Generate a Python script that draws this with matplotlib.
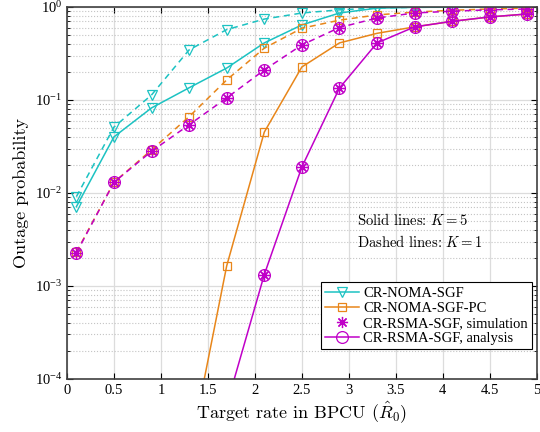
import numpy as np
import matplotlib
matplotlib.use('Agg')
import matplotlib.pyplot as plt

plt.rcParams['font.family'] = ['Liberation Serif', 'DejaVu Serif']
plt.rcParams['mathtext.fontset'] = 'stix'

# target rate (BPCU)
rate = [0.1, 0.5, 0.9, 1.3, 1.7, 2.1, 2.5, 2.9, 3.3, 3.7, 4.1, 4.5, 4.9]

# CR-NOMA-SGF
noma_k5 = [0.0071, 0.040, 0.082, 0.135, 0.22, 0.41, 0.64, 0.86, 0.97, 0.99, 0.995, 0.998, 0.999]
noma_k1 = [0.0091, 0.051, 0.113, 0.345, 0.57, 0.74, 0.86, 0.93, 0.975, 0.99, 0.995, 0.998, 0.999]

# CR-NOMA-SGF-PC
pc_rate_k5 = [1.3, 1.7, 2.1, 2.5, 2.9, 3.3, 3.7, 4.1, 4.5, 4.9]
pc_k5 = [1.5e-5, 0.00164, 0.045, 0.226, 0.41, 0.52, 0.61, 0.70, 0.78, 0.84]
pc_k1 = [0.0023, 0.013, 0.029, 0.066, 0.164, 0.36, 0.59, 0.72, 0.82, 0.88, 0.92, 0.95, 0.97]

# CR-RSMA-SGF
rsma_rate_k5 = [1.7, 2.1, 2.5, 2.9, 3.3, 3.7, 4.1, 4.5, 4.9]
rsma_k5 = [5.2e-5, 0.00132, 0.019, 0.134, 0.41, 0.61, 0.70, 0.78, 0.84]
rsma_k1 = [0.00226, 0.013, 0.028, 0.054, 0.105, 0.21, 0.39, 0.60, 0.76, 0.86, 0.90, 0.93, 0.95]

c_noma = '#1cc2c2'
c_pc = '#e8861a'
c_rsma = '#c000c8'
star = (8, 2, 0)
dash = (4, 3)

fig = plt.figure(figsize=(5.4, 4.32), dpi=100)
ax = fig.add_axes([0.124, 0.123, 0.870, 0.861])

lw = 1.1
mk = dict(mfc='none', mew=0.9)
# K = 5 (solid)
ax.plot(rate, noma_k5, '-', color=c_noma, lw=lw, marker='v', ms=7, **mk)
ax.plot(pc_rate_k5, pc_k5, '-', color=c_pc, lw=lw, marker='s', ms=6, **mk)
ax.plot(rsma_rate_k5, rsma_k5, '-', color=c_rsma, lw=lw, marker='o', ms=8.5, **mk)
ax.plot(rsma_rate_k5, rsma_k5, ls='none', color=c_rsma, marker=star, ms=8, mew=0.9)
# K = 1 (dashed)
ax.plot(rate, noma_k1, ls='--', dashes=dash, color=c_noma, lw=lw, marker='v', ms=7, **mk)
ax.plot(rate, pc_k1, ls='--', dashes=dash, color=c_pc, lw=lw, marker='s', ms=6, **mk)
ax.plot(rate, rsma_k1, ls='--', dashes=dash, color=c_rsma, lw=lw, marker='o', ms=8.5, **mk)
ax.plot(rate, rsma_k1, ls='none', color=c_rsma, marker=star, ms=8, mew=0.9)

ax.set_yscale('log')
ax.set_xlim(0, 5)
ax.set_ylim(1e-4, 1)
ax.set_xticks(np.arange(0, 5.01, 0.5))
ax.set_xticklabels(['0', '0.5', '1', '1.5', '2', '2.5', '3', '3.5', '4', '4.5', '5'])
ax.tick_params(which='both', direction='in', top=True, right=True, labelsize=10.5)
ax.tick_params(which='major', length=4)
ax.tick_params(which='minor', length=2.5)
ax.grid(True, which='major', color='#dcdcdc', lw=0.9)
ax.grid(True, which='minor', axis='y', color='#c4c4c4', lw=0.8, ls=':')
for s in ax.spines.values():
    s.set_linewidth(1.2)
    s.set_color('#404040')

ax.set_xlabel(r'Target rate in BPCU ($\hat{R}_0$)', fontsize=13, family='cmr10',
              math_fontfamily='cm', labelpad=2)
ax.set_ylabel('Outage probability', fontsize=13, family='cmr10', labelpad=4)

ax.text(3.09, 0.0051, r'Solid lines: $K=5$', fontsize=10.5, family='cmr10',
        math_fontfamily='cm', va='center')
ax.text(3.09, 0.0030, r'Dashed lines: $K=1$', fontsize=10.5, family='cmr10',
        math_fontfamily='cm', va='center')

h1, = ax.plot([], [], '-', color=c_noma, lw=lw, marker='v', ms=7, **mk)
h2, = ax.plot([], [], '-', color=c_pc, lw=lw, marker='s', ms=6, **mk)
h3, = ax.plot([], [], ls='none', color=c_rsma, marker=star, ms=8, mew=0.9)
h4, = ax.plot([], [], '-', color=c_rsma, lw=lw, marker='o', ms=8.5, **mk)
leg = ax.legend([h1, h2, h3, h4],
                ['CR-NOMA-SGF', 'CR-NOMA-SGF-PC', 'CR-RSMA-SGF, simulation',
                 'CR-RSMA-SGF, analysis'],
                loc='lower right', bbox_to_anchor=(0.99, 0.08), borderaxespad=0,
                fontsize=10.5, fancybox=False, framealpha=1, edgecolor='black',
                handlelength=2.3, handletextpad=0.3, labelspacing=0.12,
                borderpad=0.3)
leg.get_frame().set_linewidth(0.8)

fig.savefig('out.png', dpi=100)
